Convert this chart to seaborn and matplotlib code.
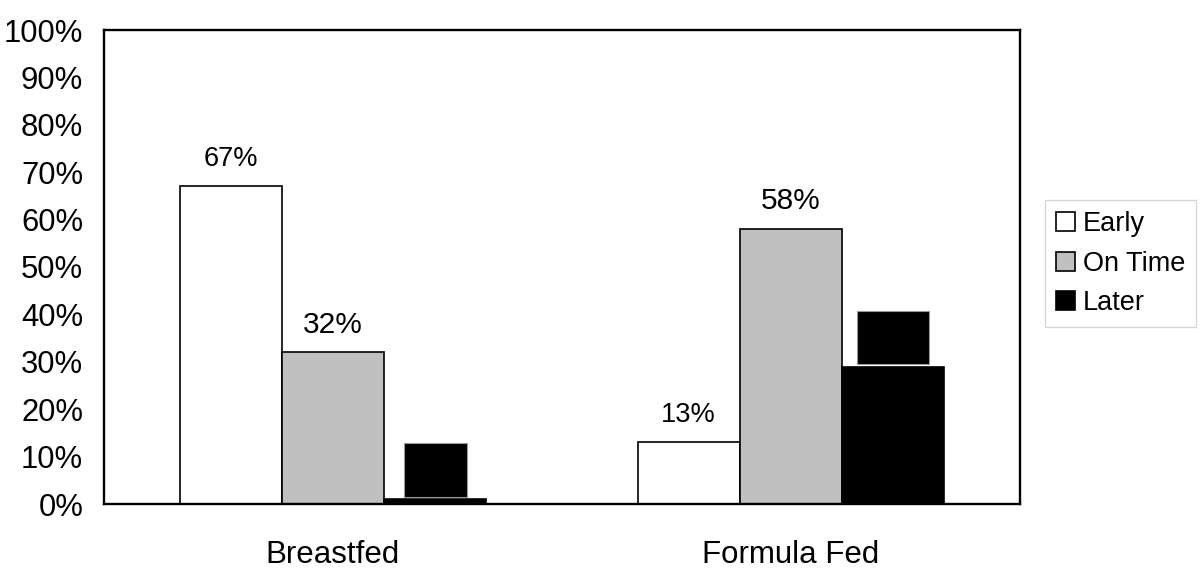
import pandas as pd
import matplotlib.pyplot as plt
import seaborn as sns
from matplotlib.patches import Patch
from matplotlib.ticker import FixedLocator, PercentFormatter

groups = ["Breastfed", "Formula Fed"]
timing = ["Early", "On Time", "Later"]
early = [67, 13]
on_time = [32, 58]
later = [1, 29]
yticks = list(range(0, 101, 10))

colors = {"Early": "white", "On Time": "#c0c0c0", "Later": "black"}
label_size = {"Early": 19.5, "On Time": 21.5, "Later": 12}

df = pd.DataFrame({
    "group": groups * 3,
    "timing": [t for t in timing for _ in groups],
    "pct": early + on_time + later,
})

sns.set_style("white")
plt.rcParams["font.family"] = ["Liberation Sans", "DejaVu Sans"]

fig = plt.figure(figsize=(12, 5.82), dpi=100)
ax = fig.add_axes([104 / 1200, 78 / 582, 916 / 1200, 474 / 582])

sns.barplot(data=df, x="group", y="pct", hue="timing", order=groups,
            hue_order=timing, palette=colors, width=0.67, gap=0,
            edgecolor="black", linewidth=1.2, legend=False, ax=ax)

# value labels (the "Later" ones show up as solid black boxes)
for cont, t in zip(ax.containers, timing):
    for bar, v in zip(cont, df[df["timing"] == t]["pct"]):
        x = bar.get_x() + bar.get_width() / 2
        if t == "Later":
            ax.annotate(f"{v}%", (x, bar.get_height()), xytext=(0, 21),
                        textcoords="offset points", ha="center", va="center",
                        fontsize=label_size[t], color="black",
                        bbox=dict(boxstyle="square,pad=1.15", fc="black", ec="#999999", lw=0.8))
        else:
            ax.annotate(f"{v}%", (x, bar.get_height()), xytext=(0, 20),
                        textcoords="offset points", ha="center", va="center",
                        fontsize=label_size[t], color="black")

ax.set_xlim(-0.5, 1.5)
ax.set_ylim(0, 100)
ax.set_yticks(yticks)
ax.yaxis.set_major_formatter(PercentFormatter(decimals=0))
ax.set_xlabel("")
ax.set_ylabel("")

ax.xaxis.set_minor_locator(FixedLocator([-0.5, 0.5, 1.5]))
ax.tick_params(axis="x", which="major", length=0, pad=26, labelsize=22.5, labelcolor="black")
ax.tick_params(axis="x", which="minor", direction="out", length=6, width=1, color="#bbbbbb")
ax.tick_params(axis="y", direction="out", length=5, width=1, color="#bbbbbb",
               pad=10, labelsize=22.3, labelcolor="black")

for s in ax.spines.values():
    s.set_visible(True)
    s.set_color("black")
    s.set_linewidth(1.7)

handles = [Patch(facecolor=colors[t], edgecolor="black", linewidth=1.2, label=t) for t in timing]
leg = ax.legend(handles=handles, loc="center left", bbox_to_anchor=(1.027, 0.507),
                fontsize=19.5, frameon=True, fancybox=False, edgecolor="#cccccc",
                handlelength=0.7, handleheight=0.7, handletextpad=0.3,
                labelspacing=0.5, borderpad=0.4, borderaxespad=0)
for txt in leg.get_texts():
    txt.set_color("black")
leg.get_frame().set_linewidth(1)

fig.savefig("out.png", dpi=100)
